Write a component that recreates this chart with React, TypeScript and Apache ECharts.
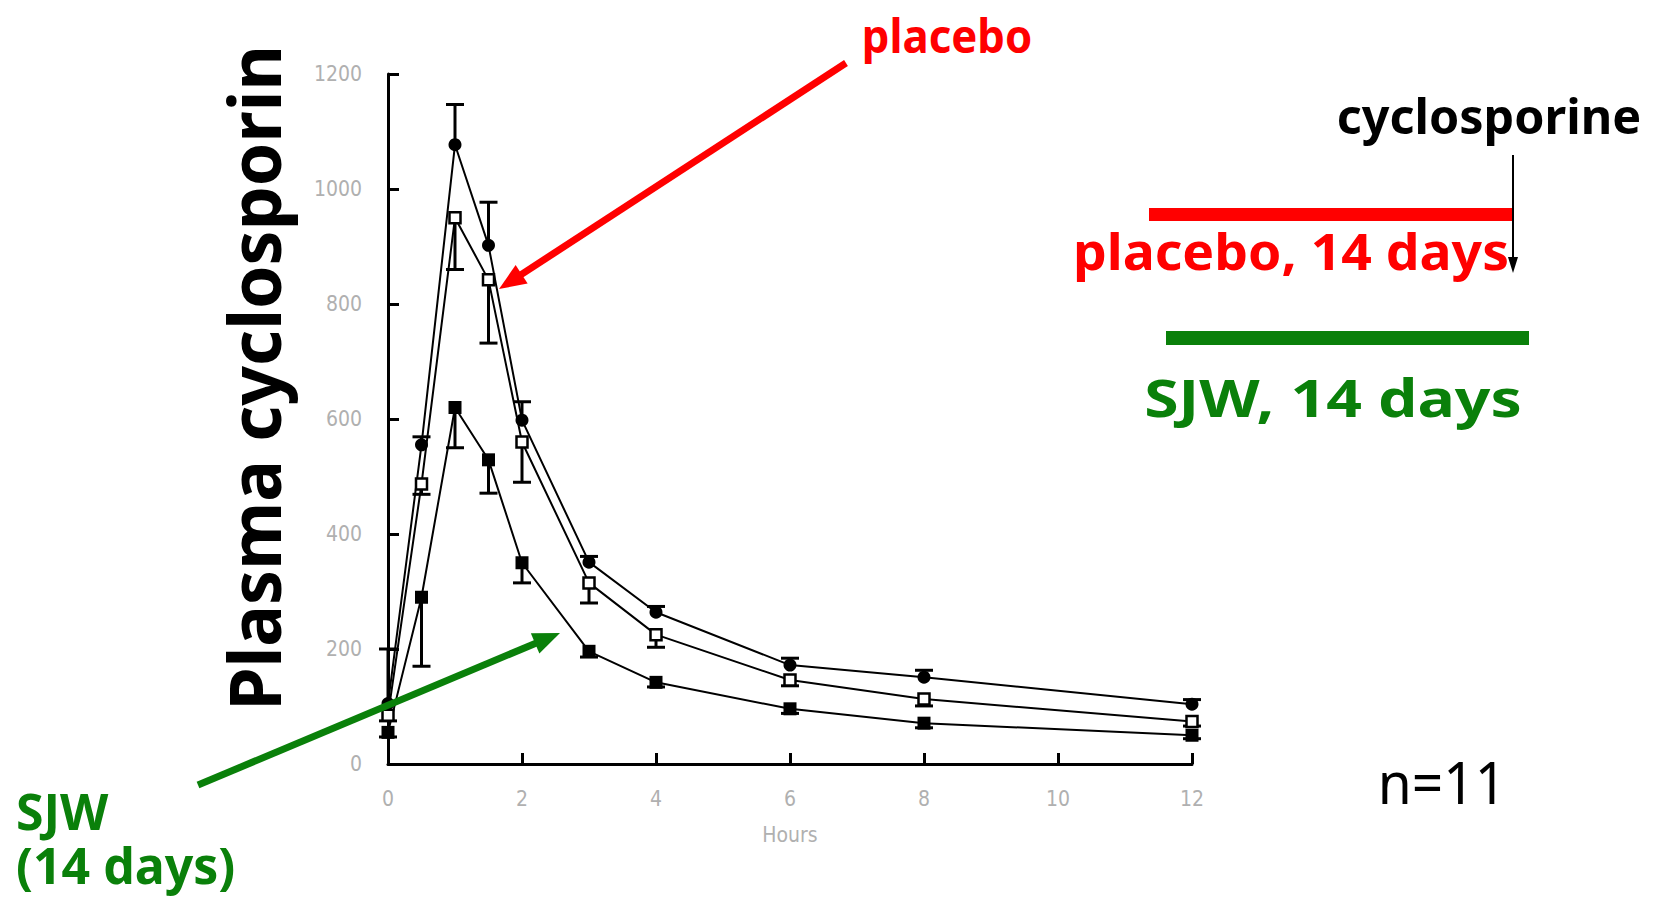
import React, { useEffect, useRef } from "react";
import * as echarts from "echarts";

// ---- data ----
const HOURS = [0, 0.5, 1, 1.5, 2, 3, 4, 6, 8, 12];
const X_TICKS = [0, 2, 4, 6, 8, 10, 12];
const Y_TICKS = [0, 200, 400, 600, 800, 1000, 1200];
// upper curve (filled circles), error bars drawn upward
const SERIES_TOP = [105, 555, 1077, 902, 598, 351, 264, 172, 151, 104];
const ERR_TOP_UP = [95, 14, 70, 75, 32, 10, 10, 12, 12, 8];
// middle curve (open squares), error bars drawn downward
const SERIES_MID = [85, 487, 950, 842, 560, 315, 225, 146, 113, 74];
const ERR_MID_DOWN = [10, 18, 90, 110, 70, 35, 22, 10, 12, 8];
// lower curve (filled squares, SJW), error bars drawn downward
const SERIES_LOW = [55, 290, 620, 529, 350, 196, 142, 96, 71, 50];
const ERR_LOW_DOWN = [8, 120, 70, 58, 35, 10, 8, 8, 8, 6];

const FONT = '"Noto Sans", "Open Sans", sans-serif';
const AXIS_FONT = '"Liberation Sans Narrow", "DejaVu Sans Condensed", "Liberation Sans", sans-serif';

function errData(vals: number[], errs: number[], dir: number) {
  return HOURS.map((h, i) => [h, vals[i], vals[i] + dir * errs[i]]);
}

function errorSeries(vals: number[], errs: number[], dir: number) {
  return {
    type: "custom",
    data: errData(vals, errs, dir),
    encode: { x: 0, y: [1, 2] },
    z: 3,
    renderItem: (params: any, api: any) => {
      const p1 = api.coord([api.value(0), api.value(1)]);
      const p2 = api.coord([api.value(0), api.value(2)]);
      return {
        type: "group",
        children: [
          { type: "line", shape: { x1: p1[0], y1: p1[1], x2: p2[0], y2: p2[1] }, style: { stroke: "#000", lineWidth: 3 } },
          { type: "line", shape: { x1: p2[0] - 9, y1: p2[1], x2: p2[0] + 9, y2: p2[1] }, style: { stroke: "#000", lineWidth: 3 } },
        ],
      };
    },
  };
}

function arrow(x1: number, y1: number, tx: number, ty: number, color: string, width: number, headLen: number, headHalf: number) {
  const dx = tx - x1, dy = ty - y1;
  const len = Math.sqrt(dx * dx + dy * dy);
  const ux = dx / len, uy = dy / len;
  const bx = tx - headLen * ux, by = ty - headLen * uy;
  const nx = -uy, ny = ux;
  return [
    { type: "line", shape: { x1, y1, x2: bx + ux * 2, y2: by + uy * 2 }, style: { stroke: color, lineWidth: width }, z: 10 },
    {
      type: "polygon",
      shape: { points: [[tx, ty], [bx + headHalf * nx, by + headHalf * ny], [bx - headHalf * nx, by - headHalf * ny]] },
      style: { fill: color },
      z: 10,
    },
  ];
}

function label(text: string, x: number, y: number, size: number, color: string, bold: boolean, scaleX = 1, align = "center", rotation = 0, lineHeight?: number) {
  return {
    type: "text",
    x,
    y,
    scaleX,
    rotation,
    z: 11,
    style: {
      text,
      fill: color,
      font: `${bold ? "bold " : ""}${size}px ${FONT}`,
      textAlign: align,
      textVerticalAlign: "middle",
      ...(lineHeight ? { lineHeight } : {}),
    },
  };
}

export default function App() {
  const ref = useRef<HTMLDivElement>(null);
  useEffect(() => {
    if (!ref.current) return;
    const chart = echarts.init(ref.current, null, { renderer: "svg" });
    const axisLabel = { color: "#b0b0b0", fontSize: 21, fontFamily: AXIS_FONT };
    chart.setOption({
      animation: false,
      backgroundColor: "#fff",
      grid: { left: 388, right: 467, top: 74, bottom: 135 },
      xAxis: {
        type: "value",
        min: 0,
        max: 12,
        interval: 2,
        name: "Hours",
        nameLocation: "middle",
        nameGap: 60,
        nameTextStyle: { color: "#b0b0b0", fontSize: 21, fontFamily: AXIS_FONT },
        axisLine: { lineStyle: { color: "#000", width: 3 } },
        axisTick: { inside: true, length: 11, lineStyle: { color: "#000", width: 3 } },
        axisLabel: { ...axisLabel, margin: 24, formatter: (v: number) => (X_TICKS.includes(v) ? String(v) : "") },
        splitLine: { show: false },
      },
      yAxis: {
        type: "value",
        min: 0,
        max: 1200,
        interval: 200,
        axisLine: { show: true, lineStyle: { color: "#000", width: 3 } },
        axisTick: { show: true, inside: true, length: 11, lineStyle: { color: "#000", width: 3 } },
        axisLabel: { ...axisLabel, margin: 26, formatter: (v: number) => (Y_TICKS.includes(v) ? String(v) : "") },
        splitLine: { show: false },
      },
      series: [
        {
          type: "line",
          data: HOURS.map((h, i) => [h, SERIES_TOP[i]]),
          lineStyle: { color: "#000", width: 2 },
          symbol: "circle",
          symbolSize: 13,
          itemStyle: { color: "#000" },
          z: 4,
        },
        {
          type: "line",
          data: HOURS.map((h, i) => [h, SERIES_MID[i]]),
          lineStyle: { color: "#000", width: 2 },
          symbol: "rect",
          symbolSize: 11,
          itemStyle: { color: "#fff", borderColor: "#000", borderWidth: 2.5 },
          z: 4,
        },
        {
          type: "line",
          data: HOURS.map((h, i) => [h, SERIES_LOW[i]]),
          lineStyle: { color: "#000", width: 2 },
          symbol: "rect",
          symbolSize: 13,
          itemStyle: { color: "#000" },
          z: 4,
        },
        errorSeries(SERIES_TOP, ERR_TOP_UP, 1),
        errorSeries(SERIES_MID, ERR_MID_DOWN, -1),
        errorSeries(SERIES_LOW, ERR_LOW_DOWN, -1),
      ],
      graphic: [
        label("Plasma cyclosporin", 253, 378, 72, "#000", true, 0.97, "center", Math.PI / 2),
        label("placebo", 947, 34, 47, "#ff0000", true, 0.93),
        ...arrow(846, 63, 499, 289, "#ff0000", 7, 27, 11),
        label("SJW\n(14 days)", 16, 838, 50, "#0a800a", true, 1, "left", 0, 54),
        ...arrow(198, 785, 560, 633, "#0a800a", 7, 27, 11),
        label("cyclosporine", 1489, 115, 48, "#000", true, 1.01),
        { type: "rect", shape: { x: 1149, y: 208, width: 364, height: 13 }, style: { fill: "#ff0000" }, z: 9 },
        label("placebo, 14 days", 1291, 251, 50, "#ff0000", true, 1.07),
        ...arrow(1513, 155, 1513, 273, "#000", 2, 16, 5),
        { type: "rect", shape: { x: 1166, y: 331, width: 363, height: 14 }, style: { fill: "#0a800a" }, z: 9 },
        label("SJW, 14 days", 1333, 397, 52, "#0a800a", true, 1.2),
        label("n=11", 1442, 782, 58, "#000", false, 0.95),
      ],
    });
    return () => chart.dispose();
  }, []);
  return (
    <div
      ref={ref}
      style={{ position: "fixed", left: 0, top: 0, width: "1659px", height: "899px", background: "#fff" }}
    />
  );
}
